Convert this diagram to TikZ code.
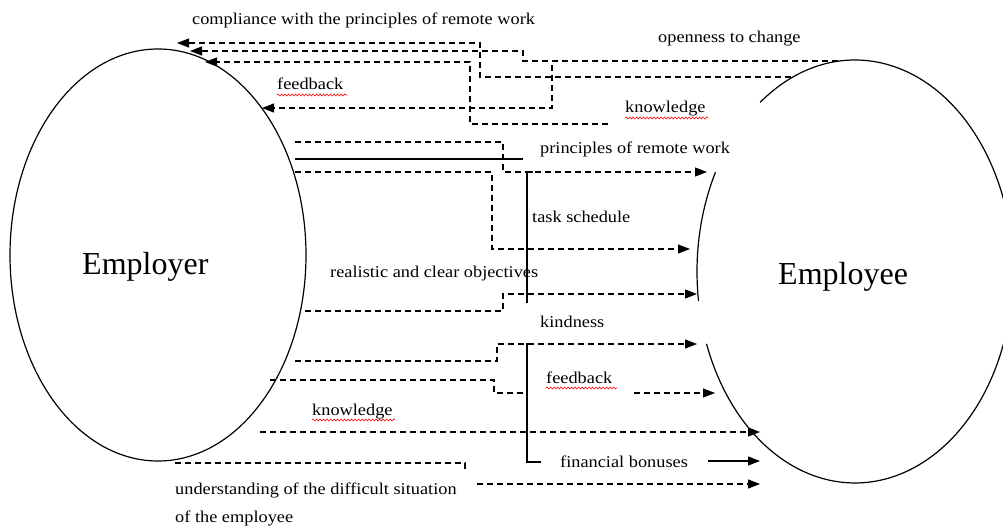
\documentclass[tikz,border=0pt]{standalone}
\usepackage{fontspec}
\setmainfont{Liberation Serif}
\newfontfamily\lblfont{Liberation Serif}[FakeStretch=1.11]
\usetikzlibrary{arrows.meta,shapes.geometric,calc,decorations.pathmorphing}
\begin{document}
\begin{tikzpicture}[x=1pt,y=-1pt,
  conn/.style={line width=1.1pt, dash pattern=on 6pt off 4pt},
  solidline/.style={line width=1.2pt},
  tip/.style={-{Triangle[length=12pt,width=9pt]}},
  lbl/.style={inner sep=0pt, anchor=base west, font=\lblfont\fontsize{16.5}{19}\selectfont},
  big/.style={inner sep=0pt, anchor=base west, font=\fontsize{32}{36}\selectfont},
  squig/.style={red, line width=0.6pt, decorate, decoration={snake, amplitude=1pt, segment length=3.5pt}},
  oval/.style={ellipse, inner sep=0pt, outer sep=0pt, line width=1.2pt}]
\useasboundingbox (0,0) rectangle (1003,526);

% main shapes
\node[oval, draw, minimum width=296pt, minimum height=412pt] (employer) at (158,255) {};
\node[oval, minimum width=316pt, minimum height=423pt] (employee) at (855,271.5) {};
\draw[solidline] (employee.center) ++(233.1:158 and 211.5) arc[start angle=233.1, end angle=520, x radius=158, y radius=211.5];
\draw[solidline] (employee.center) ++(172:158 and 211.5) arc[start angle=172, end angle=208, x radius=158, y radius=211.5];
\node[big] (employertext) at (82,275) {Employer};
\node[big] (employeetext) at (778,285) {Employee};

% labels
\node[lbl] (l1) at (192,25) {compliance with the principles of remote work};
\node[lbl] (l2) at (658,43) {openness to change};
\node[lbl] (l3) at (277,90) {feedback};
\node[lbl] (l4) at (625,113) {knowledge};
\node[lbl] (l5) at (540,154) {principles of remote work};
\node[lbl] (l6) at (532,223) {task schedule};
\node[lbl] (l7) at (330,278) {realistic and clear objectives};
\node[lbl] (l8) at (540,327) {kindness};
\node[lbl] (l9) at (546,383) {feedback};
\node[lbl] (l10) at (312,415) {knowledge};
\node[lbl] (l11) at (560,467) {financial bonuses};
\node[lbl] (l12) at (175,494) {understanding of the difficult situation};
\node[lbl] (l13) at (175,522) {of the employee};

% spell-check squiggles
\draw[squig] (l3.base west) ++(0,5) -- ++(70,0);
\draw[squig] (l4.base west) ++(0,5) -- ++(83,0);
\draw[squig] (l9.base west) ++(0,5) -- ++(71,0);
\draw[squig] (l10.base west) ++(0,5) -- ++(83,0);

% named end points
\coordinate (a0) at (791,77);  \coordinate (aT) at (177,43);
\coordinate (b0) at (838,61);  \coordinate (bT) at (190,51);
\coordinate (dT) at (262,108);
\coordinate (c0) at (608,124); \coordinate (cT) at (205,62);
\coordinate (e0) at (295,142); \coordinate (eT) at (707,172);
\coordinate (s0) at (295,159); \coordinate (s1) at (523,159);
\coordinate (f0) at (295,172); \coordinate (fT) at (690,249);
\coordinate (g0) at (305,311); \coordinate (gT) at (697,294);
\coordinate (h0) at (295,361); \coordinate (hT) at (697,344);
\coordinate (i0) at (270,380); \coordinate (i1) at (634,393); \coordinate (iT) at (715,393);
\coordinate (k0) at (260,432); \coordinate (kT) at (760,432);
\coordinate (m0) at (708,461); \coordinate (mT) at (760,461);
\coordinate (j0) at (175,463); \coordinate (j1) at (477,484); \coordinate (jT) at (760,484);

% employee -> employer
\draw[conn,tip] (a0) -| (480,43) -- (aT);
\draw[conn,tip] (b0) -| (523,51) -- (bT);
\draw[conn,tip] (b0) -| (552,108) -- (dT);
\draw[conn,tip] (c0) -| (470,62) -- (cT);

% employer -> employee
\draw[conn,tip] (e0) -| (503,172) -- (eT);
\draw[solidline] (s0) -- (s1);
\draw[conn,tip] (f0) -| (492,249) -- (fT);
\draw[solidline] (533,172) -- (527,172) -- (527,303);
\draw[conn,tip] (g0) -| (503,294) -- (gT);
\draw[conn,tip] (h0) -| (497,344) -- (hT);
\draw[solidline] (533,344) -- (527,344) -- (527,462) -- (541,462);
\draw[conn] (i0) -| (494,393) -- (527,393);
\draw[conn,tip] (i1) -- (iT);
\draw[conn,tip] (k0) -- (kT);
\draw[solidline,tip] (m0) -- (mT);
\draw[conn] (j0) -| (465,470);
\draw[conn,tip] (j1) -- (jT);
\end{tikzpicture}
\end{document}
